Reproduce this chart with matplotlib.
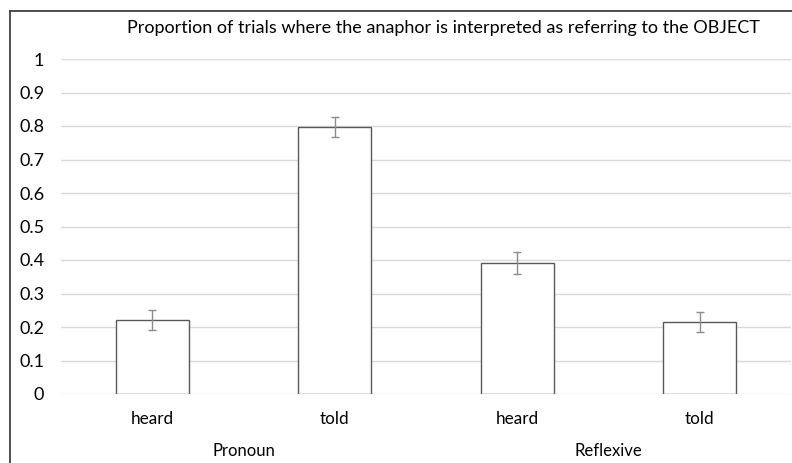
import matplotlib
matplotlib.use("Agg")
import matplotlib.pyplot as plt
from matplotlib.lines import Line2D
import numpy as np

plt.rcParams['font.family'] = ['Lato', 'DejaVu Sans']

title = "Proportion of trials where the anaphor is interpreted as referring to the OBJECT"
categories = ["heard", "told", "heard", "told"]
groups = ["Pronoun", "Reflexive"]
values = [0.221, 0.797, 0.392, 0.214]
errors = [0.030, 0.029, 0.033, 0.030]
yticks = [0, 0.1, 0.2, 0.3, 0.4, 0.5, 0.6, 0.7, 0.8, 0.9, 1]
ytick_labels = ["0", "0.1", "0.2", "0.3", "0.4", "0.5", "0.6", "0.7", "0.8", "0.9", "1"]

fig = plt.figure(figsize=(7.92, 4.63), dpi=100)
ax = fig.add_axes([61/792, 1-394/463, 730/792, 335/463])

x = np.arange(len(categories))
ax.bar(x, values, width=0.4, color="white", edgecolor="#595959", linewidth=1.0, zorder=3)
ax.errorbar(x, values, yerr=errors, fmt="none", ecolor="#8c8c8c", elinewidth=1.0,
            capsize=3.2, capthick=1.0, zorder=4)

ax.set_xlim(-0.5, len(categories) - 0.5)
ax.set_ylim(0, 1)
ax.set_yticks(yticks)
ax.set_yticklabels(ytick_labels)
ax.set_xticks(x)
ax.set_xticklabels(categories)
ax.yaxis.grid(True, color="#d9d9d9", linewidth=1.0, zorder=0)
ax.set_axisbelow(True)
for s in ax.spines.values():
    s.set_visible(False)
ax.tick_params(axis="y", length=0, labelsize=13, colors="black", pad=12)
ax.tick_params(axis="x", length=0, labelsize=12.3, colors="black", pad=12)

for i, g in enumerate(groups):
    ax.text(2*i + 0.5, -0.17, g, transform=ax.get_xaxis_transform(),
            ha="center", va="center", fontsize=12)

fig.text(0.5 + 47/792, 1 - 28/463, title, ha="center", va="center", fontsize=13)

# chart border (left and top visible)
fig.add_artist(Line2D([10/792, 10/792], [0, 1-11/463], color="#404040", linewidth=1.3,
                      transform=fig.transFigure))
fig.add_artist(Line2D([10/792, 1], [1-11/463, 1-11/463], color="#404040", linewidth=1.3,
                      transform=fig.transFigure))

fig.savefig("out.png", dpi=100)
